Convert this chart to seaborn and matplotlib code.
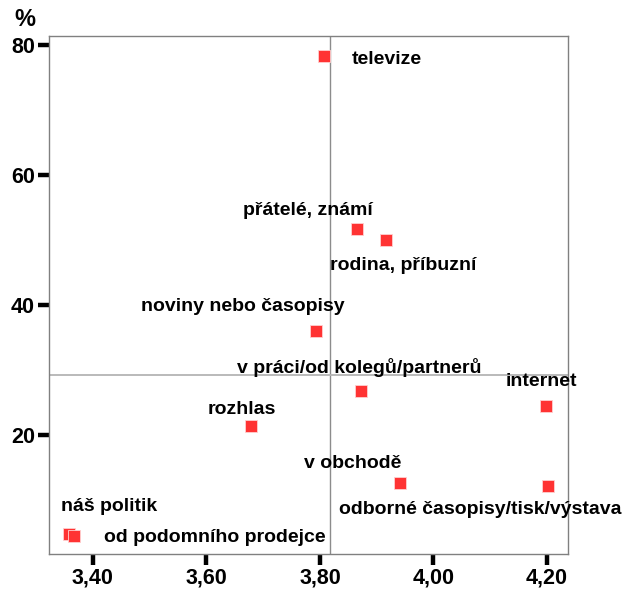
import pandas as pd
import seaborn as sns
import matplotlib.pyplot as plt
from matplotlib.ticker import FuncFormatter

# ----------------------------- data ------------------------------
sources = [
    "televize", "přátelé, známí", "rodina, příbuzní", "noviny nebo časopisy",
    "v práci/od kolegů/partnerů", "internet", "rozhlas", "v obchodě",
    "odborné časopisy/tisk/výstava", "náš politik", "od podomního prodejce",
]
mean_score = [3.807, 3.865, 3.916, 3.793, 3.872, 4.198, 3.678, 3.941, 4.202, 3.358, 3.367]
percent = [78.3, 51.7, 50.0, 36.0, 26.8, 24.5, 21.4, 12.6, 12.2, 4.8, 4.5]
mean_x_ref = 3.818
mean_y_ref = 29.2

x_ticks = [3.40, 3.60, 3.80, 4.00, 4.20]
y_ticks = [20, 40, 60, 80]

df = pd.DataFrame({"source": sources, "x": mean_score, "y": percent})

# label offsets in pixels (dx, dy) from each point
offsets = {
    "televize": (63, -3), "přátelé, známí": (-49, 19), "rodina, příbuzní": (17, -25),
    "noviny nebo časopisy": (-73, 25), "v práci/od kolegů/partnerů": (-2, 23),
    "internet": (-4, 24), "rozhlas": (-9, 16), "v obchodě": (-47, 20),
    "odborné časopisy/tisk/výstava": (-68, -24), "náš politik": (40, 27),
    "od podomního prodejce": (141, -2),
}

# ----------------------------- plot ------------------------------
sns.set_style("white")
plt.rcParams["font.family"] = ["Liberation Sans", "DejaVu Sans"]

fig = plt.figure(figsize=(6.25, 5.94), dpi=100)
ax = fig.add_axes([0.0784, 0.0673, 0.8304, 0.8721])

ax.axvline(mean_x_ref, color="#8c8c8c", lw=1, zorder=1)
ax.axhline(mean_y_ref, color="#b4b4b4", lw=1.3, zorder=1)

sns.scatterplot(data=df, x="x", y="y", marker="s", s=80, color="#ff3333",
                edgecolor="#ffd0d0", linewidth=0.6, ax=ax, zorder=3, legend=False)

for _, r in df.iterrows():
    dx, dy = offsets[r["source"]]
    ax.annotate(r["source"], (r["x"], r["y"]), xytext=(dx, dy), textcoords="offset pixels",
                ha="center", va="center", fontsize=14, fontweight="bold", color="black",
                annotation_clip=False, zorder=4)

ax.set_xlim(3.3225, 4.237)
ax.set_ylim(1.7, 81.4)
ax.set_xticks(x_ticks)
ax.set_yticks(y_ticks)
ax.xaxis.set_major_formatter(FuncFormatter(lambda v, p: f"{v:.2f}".replace(".", ",")))
ax.tick_params(axis="both", which="both", direction="out", length=8, width=3.2,
               color="black", labelcolor="black", labelsize=15.5, pad=2,
               bottom=True, left=True)
for lab in ax.get_xticklabels() + ax.get_yticklabels():
    lab.set_fontweight("bold")
ax.set_xlabel("")
ax.set_ylabel("")
for sp in ax.spines.values():
    sp.set_color("#808080")
    sp.set_linewidth(1)

fig.text(25 / 625, 1 - 20 / 594, "%", ha="center", va="center", fontsize=17,
         fontweight="bold", color="black")

fig.savefig("out.png", dpi=100)
